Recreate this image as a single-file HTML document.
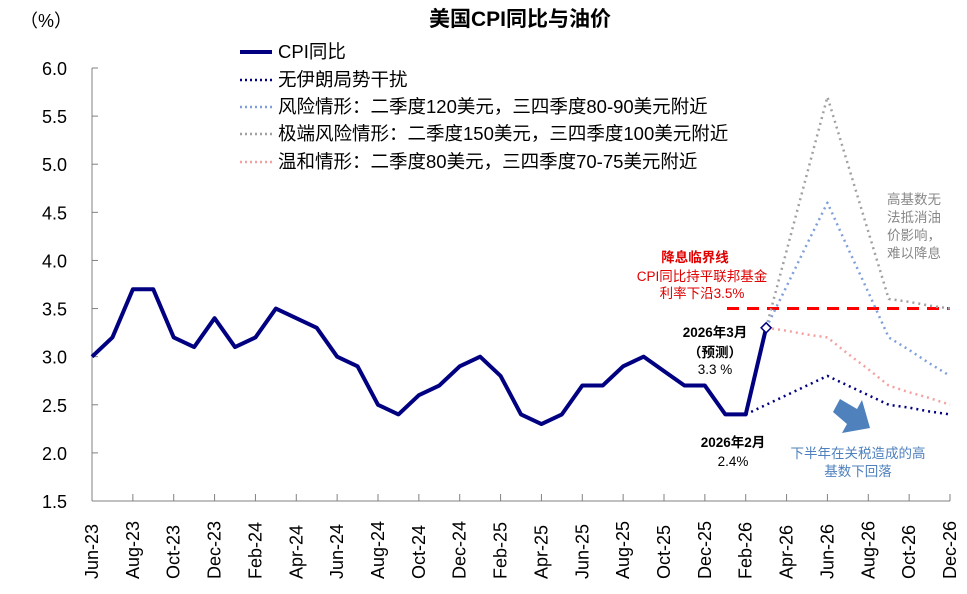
<!DOCTYPE html>
<html><head><meta charset="utf-8"><style>
body{margin:0;background:#fff}
svg{display:block;font-family:"Liberation Sans","Noto Sans CJK SC",sans-serif}
</style></head><body>
<svg id="c" width="967" height="594" viewBox="0 0 967 594">
<text x="520" y="26" text-anchor="middle" font-size="21" font-weight="bold">美国CPI同比与油价</text>
<text x="20" y="27" font-size="18">（%）</text>
<g id="axes"></g><g id="series"></g>
<g font-size="18.5">
<line x1="240" y1="52" x2="272" y2="52" stroke="#000080" stroke-width="4"/><text x="278" y="58">CPI同比</text>
<line x1="240" y1="80" x2="272" y2="80" stroke="#000080" stroke-width="2.5" stroke-dasharray="2,3"/><text x="278" y="86">无伊朗局势干扰</text>
<line x1="240" y1="107" x2="272" y2="107" stroke="#7f9fdc" stroke-width="2.5" stroke-dasharray="2,3"/><text x="278" y="113">风险情形：二季度120美元，三四季度80-90美元附近</text>
<line x1="240" y1="134" x2="272" y2="134" stroke="#a0a0a0" stroke-width="2.5" stroke-dasharray="2,3"/><text x="278" y="140">极端风险情形：二季度150美元，三四季度100美元附近</text>
<line x1="240" y1="162" x2="272" y2="162" stroke="#f4a0a0" stroke-width="2.5" stroke-dasharray="2,3"/><text x="278" y="168">温和情形：二季度80美元，三四季度70-75美元附近</text>
</g>
<g font-size="13.5" text-anchor="middle">
<text x="695" y="262" fill="#e00000" font-weight="bold">降息临界线</text>
<text x="702" y="281" fill="#e00000">CPI同比持平联邦基金</text>
<text x="702" y="298" fill="#e00000">利率下沿3.5%</text>
<text x="715" y="337" font-weight="bold">2026年3月</text>
<text x="715" y="357" font-weight="bold">（预测）</text>
<text x="715" y="374">3.3 %</text>
<text x="733" y="447" font-weight="bold">2026年2月</text>
<text x="733" y="466">2.4%</text>
<text x="858" y="458" fill="#4f81bd">下半年在关税造成的高</text>
<text x="858" y="476" fill="#4f81bd">基数下回落</text>
</g>
<g font-size="13.5" fill="#888">
<text x="887" y="204">高基数无</text><text x="887" y="222">法抵消油</text><text x="887" y="240">价影响，</text><text x="887" y="258">难以降息</text>
</g>
<polygon points="833,412 840,399 857,409 862,400 870,428 842,433 847,424" fill="#4f81bd"/>
</svg>
<script>
const months=["Jun-23","Jul-23","Aug-23","Sep-23","Oct-23","Nov-23","Dec-23","Jan-24","Feb-24","Mar-24","Apr-24","May-24","Jun-24","Jul-24","Aug-24","Sep-24","Oct-24","Nov-24","Dec-24","Jan-25","Feb-25","Mar-25","Apr-25","May-25","Jun-25","Jul-25","Aug-25","Sep-25","Oct-25","Nov-25","Dec-25","Jan-26","Feb-26","Mar-26","Apr-26","May-26","Jun-26","Jul-26","Aug-26","Sep-26","Oct-26","Nov-26","Dec-26"];
const yTicks=[1.5,2.0,2.5,3.0,3.5,4.0,4.5,5.0,5.5,6.0];
const cpi=[3.0,3.2,3.7,3.7,3.2,3.1,3.4,3.1,3.2,3.5,3.4,3.3,3.0,2.9,2.5,2.4,2.6,2.7,2.9,3.0,2.8,2.4,2.3,2.4,2.7,2.7,2.9,3.0,2.85,2.7,2.7,2.4,2.4,3.3];
const noIranStart=32;
const noIran=[2.4,2.5,2.6,2.7,2.8,2.7,2.6,2.5,2.47,2.43,2.4];
const scenStart=33;
const risk=[3.3,3.73,4.17,4.6,4.13,3.67,3.2,3.07,2.93,2.8];
const extreme=[3.3,4.1,4.9,5.7,5.0,4.3,3.6,3.57,3.53,3.5];
const mild=[3.3,3.27,3.23,3.2,3.03,2.87,2.7,2.63,2.57,2.5];
const rateFloor=3.5;
const X0=92,X1=950,Y0=501,Y1=68,ymin=1.5,ymax=6.0;
const xs=i=>X0+i*(X1-X0)/(months.length-1);
const ys=v=>Y0-(v-ymin)/(ymax-ymin)*(Y0-Y1);
const NS="http://www.w3.org/2000/svg";
function mk(p,t,a){const e=document.createElementNS(NS,t);for(const k in a)e.setAttribute(k,a[k]);p.appendChild(e);return e;}
const ax=document.getElementById('axes'),se=document.getElementById('series');
let e=mk(ax,'line',{x1:X0,y1:Y1,x2:X0,y2:Y0,stroke:'#808080'});


e=mk(ax,'line',{x1:X0,y1:Y0,x2:X1,y2:Y0,stroke:'#808080'});


yTicks.forEach(v=>{
 mk(ax,'line',{x1:X0,y1:ys(v),x2:X0+6,y2:ys(v),stroke:'#808080'});
 const t=mk(ax,'text',{x:X0-25,y:ys(v)+7,'text-anchor':'end','font-size':18});t.textContent=v.toFixed(1);
 
 
});
months.forEach((m,i)=>{
 if(i%2)return;
 mk(ax,'line',{x1:xs(i),y1:Y0,x2:xs(i),y2:Y0-7,stroke:'#808080'});
 const t=mk(ax,'text',{x:0,y:0,'text-anchor':'start','font-size':18,transform:`translate(${xs(i)+6},579) rotate(-90)`});t.textContent=m;
 
 
});
e=mk(se,'line',{x1:727,y1:ys(rateFloor),x2:X1,y2:ys(rateFloor),stroke:'#f00','stroke-width':3,'stroke-dasharray':'12,8'});


function line(arr,start,col,w,dash,name){
 const p=mk(se,'polyline',{points:arr.map((v,i)=>xs(start+i)+','+ys(v)).join(' '),fill:'none',stroke:col,'stroke-width':w,'stroke-linejoin':'round'});
 if(dash)p.setAttribute('stroke-dasharray',dash);
 
 
}
line(extreme,scenStart,'#a0a0a0',2.5,'2,4','extreme-risk-line');
line(risk,scenStart,'#7f9fdc',2.5,'2,4','risk-line');
line(mild,scenStart,'#f4a0a0',2.5,'2,4','mild-line');
line(noIran,noIranStart,'#000080',2.5,'2,4','no-iran-line');
line(cpi,0,'#000080',4,null,'cpi-line');
const lx=xs(cpi.length-1),ly=ys(cpi[cpi.length-1]);
e=mk(se,'polygon',{points:`${lx},${ly-5} ${lx+5},${ly} ${lx},${ly+5} ${lx-5},${ly}`,fill:'#fff',stroke:'#000080','stroke-width':1.5});


</script>
</body></html>
